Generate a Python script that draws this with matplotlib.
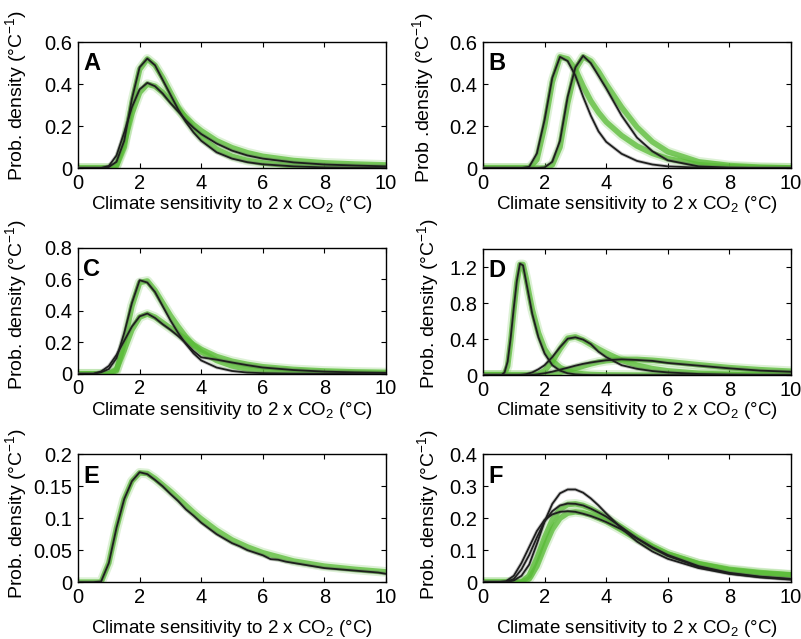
import matplotlib
matplotlib.use("Agg")
import matplotlib.pyplot as plt
from matplotlib.ticker import FixedLocator, FixedFormatter

plt.rcParams['font.family'] = ['Liberation Sans', 'DejaVu Sans']
plt.rcParams['mathtext.fontset'] = 'custom'
plt.rcParams['mathtext.rm'] = 'Liberation Sans'
plt.rcParams['mathtext.it'] = 'Liberation Sans:italic'
plt.rcParams['mathtext.bf'] = 'Liberation Sans:bold'

# ---------------- data ----------------
X = [0, 0.5, 0.75, 1.0, 1.25, 1.5, 1.75, 2.0, 2.25, 2.5, 2.75, 3.0, 3.25, 3.5,
     3.75, 4.0, 4.5, 5.0, 5.5, 6.0, 7.0, 8.0, 9.0, 10.0]

# Panel A
a_black_tall = [0, 0, 0, 0.005, 0.03, 0.13, 0.33, 0.48, 0.522, 0.49, 0.42, 0.35, 0.28, 0.22,
                0.17, 0.13, 0.075, 0.045, 0.028, 0.018, 0.008, 0.003, 0.001, 0.0]
a_black_wide = [0, 0, 0, 0.01, 0.06, 0.17, 0.29, 0.375, 0.406, 0.39, 0.355, 0.31, 0.27, 0.228,
                0.192, 0.162, 0.117, 0.083, 0.06, 0.045, 0.027, 0.017, 0.012, 0.008]
a_green_tall = [0, 0, 0, 0, 0.01, 0.10, 0.31, 0.47, 0.52, 0.49, 0.43, 0.36, 0.29, 0.235,
                0.185, 0.145, 0.09, 0.056, 0.036, 0.024, 0.011, 0.005, 0.002, 0.001]
a_green_wide = [0, 0, 0, 0, 0.015, 0.12, 0.26, 0.36, 0.40, 0.39, 0.36, 0.32, 0.28, 0.242,
                0.207, 0.178, 0.13, 0.097, 0.073, 0.056, 0.036, 0.025, 0.019, 0.015]

# Panel B
b_black_1 = [0, 0, 0, 0, 0, 0.006, 0.07, 0.23, 0.43, 0.53, 0.51, 0.44, 0.34, 0.25,
             0.175, 0.125, 0.068, 0.034, 0.017, 0.008, 0.002, 0, 0, 0]
b_black_2 = [0, 0, 0, 0, 0, 0, 0, 0.003, 0.03, 0.13, 0.34, 0.48, 0.535, 0.50,
             0.44, 0.38, 0.25, 0.145, 0.08, 0.037, 0.008, 0.002, 0, 0]
b_green_1 = [0, 0, 0, 0, 0, 0, 0.04, 0.20, 0.41, 0.53, 0.52, 0.47, 0.39, 0.32,
             0.265, 0.22, 0.155, 0.105, 0.07, 0.045, 0.016, 0.006, 0.002, 0.001]
b_green_2 = [0, 0, 0, 0, 0, 0, 0, 0, 0.015, 0.10, 0.31, 0.47, 0.53, 0.51,
             0.46, 0.40, 0.29, 0.195, 0.125, 0.078, 0.03, 0.012, 0.004, 0.001]

# Panel C
c_black_tall = [0, 0, 0.01, 0.03, 0.10, 0.26, 0.45, 0.595, 0.58, 0.52, 0.43, 0.34, 0.26, 0.19,
                0.13, 0.085, 0.04, 0.018, 0.008, 0.004, 0.001, 0, 0, 0]
c_black_wide = [0, 0, 0.015, 0.05, 0.12, 0.21, 0.30, 0.365, 0.383, 0.355, 0.315, 0.28, 0.24, 0.195,
                0.145, 0.105, 0.09, 0.072, 0.055, 0.04, 0.024, 0.014, 0.009, 0.006]
c_green_tall = [0, 0, 0, 0, 0.02, 0.20, 0.43, 0.58, 0.59, 0.53, 0.45, 0.37, 0.30, 0.235,
                0.18, 0.14, 0.085, 0.05, 0.03, 0.018, 0.007, 0.003, 0.001, 0]
c_green_wide = [0, 0, 0, 0, 0.03, 0.15, 0.28, 0.36, 0.38, 0.36, 0.325, 0.29, 0.255, 0.22,
                0.185, 0.155, 0.11, 0.08, 0.06, 0.045, 0.028, 0.018, 0.012, 0.008]

# Panel D
XD = [0, 0.5, 0.6, 0.7, 0.8, 0.9, 1.0, 1.1, 1.2, 1.3, 1.4, 1.5, 1.6, 1.8, 2.0, 2.25,
      2.5, 2.75, 3.0, 3.25, 3.5, 3.75, 4.0, 4.5, 5.0, 5.5, 6.0, 7.0, 8.0, 9.0, 10.0]
d_black_1 = [0, 0, 0, 0.03, 0.15, 0.42, 0.75, 1.05, 1.24, 1.22, 1.04, 0.86, 0.68, 0.42, 0.24, 0.11,
             0.05, 0.02, 0.008, 0.003, 0.001, 0, 0, 0, 0, 0, 0, 0, 0, 0, 0]
d_black_2 = [0, 0, 0, 0, 0, 0, 0, 0, 0.002, 0.005, 0.01, 0.02, 0.03, 0.065, 0.11, 0.20,
             0.31, 0.405, 0.42, 0.395, 0.345, 0.26, 0.20, 0.11, 0.07, 0.045, 0.03, 0.012, 0.005, 0.002, 0.001]
d_black_3 = [0, 0, 0, 0, 0, 0, 0, 0, 0, 0, 0, 0, 0.002, 0.01, 0.02, 0.038,
             0.06, 0.082, 0.105, 0.125, 0.14, 0.153, 0.165, 0.175, 0.168, 0.158, 0.135, 0.105, 0.075, 0.05, 0.037]
d_green_1 = [0, 0, 0, 0.01, 0.10, 0.38, 0.72, 1.03, 1.23, 1.23, 1.08, 0.90, 0.73, 0.47, 0.29, 0.16,
             0.085, 0.045, 0.025, 0.013, 0.007, 0.004, 0.002, 0.001, 0, 0, 0, 0, 0, 0, 0]
d_green_2 = [0, 0, 0, 0, 0, 0, 0, 0, 0, 0, 0, 0, 0, 0.01, 0.05, 0.15,
             0.29, 0.41, 0.425, 0.39, 0.34, 0.29, 0.245, 0.165, 0.11, 0.072, 0.047, 0.02, 0.008, 0.003, 0.001]
d_green_3 = [0, 0, 0, 0, 0, 0, 0, 0, 0, 0, 0, 0, 0, 0, 0.005, 0.015,
             0.03, 0.05, 0.075, 0.10, 0.125, 0.145, 0.16, 0.175, 0.175, 0.165, 0.15, 0.115, 0.083, 0.06, 0.043]

# Panel E
XE = [0, 0.25, 0.5, 0.75, 1.0, 1.25, 1.5, 1.75, 2.0, 2.25, 2.5, 2.75, 3.0, 3.25, 3.5, 3.75,
      4.0, 4.25, 4.5, 4.75, 5.0, 5.25, 5.5, 5.75, 6.0, 6.25, 6.5, 6.75, 7.0, 7.25, 7.5, 7.75,
      8.0, 8.25, 8.5, 8.75, 9.0, 9.25, 9.5, 9.75, 10.0]
e_black = [0, 0, 0, 0.001, 0.03, 0.085, 0.13, 0.158, 0.172, 0.169, 0.16, 0.15, 0.138, 0.127, 0.114, 0.104,
           0.093, 0.084, 0.075, 0.068, 0.061, 0.056, 0.05, 0.046, 0.042, 0.036, 0.035, 0.032, 0.030, 0.028, 0.026, 0.024,
           0.022, 0.021, 0.020, 0.019, 0.018, 0.017, 0.016, 0.015, 0.013]
e_green = [0, 0, 0, 0.03, 0.085, 0.13, 0.158, 0.171, 0.17, 0.162, 0.152, 0.142, 0.131, 0.12,
           0.109, 0.099, 0.081, 0.066, 0.055, 0.046, 0.033, 0.025, 0.02, 0.016]

# Panel F
f_black_1 = [0, 0, 0, 0.005, 0.02, 0.055, 0.12, 0.19, 0.245, 0.278, 0.29, 0.29, 0.28, 0.262,
             0.24, 0.215, 0.168, 0.127, 0.096, 0.073, 0.044, 0.026, 0.015, 0.008]
f_black_2 = [0, 0, 0, 0.01, 0.04, 0.085, 0.14, 0.19, 0.222, 0.24, 0.246, 0.245, 0.24, 0.23,
             0.218, 0.205, 0.172, 0.137, 0.107, 0.082, 0.048, 0.027, 0.016, 0.009]
f_black_3 = [0, 0, 0.003, 0.02, 0.06, 0.11, 0.16, 0.195, 0.212, 0.22, 0.222, 0.22, 0.214, 0.207,
             0.198, 0.188, 0.165, 0.137, 0.109, 0.085, 0.05, 0.029, 0.017, 0.01]
f_green_1 = [0, 0, 0, 0, 0, 0.02, 0.075, 0.14, 0.195, 0.228, 0.243, 0.245, 0.24, 0.23,
             0.217, 0.203, 0.172, 0.14, 0.112, 0.088, 0.057, 0.038, 0.028, 0.022]
f_green_2 = [0, 0, 0, 0, 0, 0.01, 0.05, 0.11, 0.165, 0.20, 0.216, 0.22, 0.217, 0.21,
             0.20, 0.19, 0.163, 0.135, 0.11, 0.088, 0.058, 0.04, 0.03, 0.023]

x_ticks = [0, 2, 4, 6, 8, 10]
x_ticklabels = ['0', '2', '4', '6', '8', '10']

panels = [
    dict(letter='A', rect=[0.0974, 0.737, 0.3845, 0.197],
         yticks=[0, 0.2, 0.4, 0.6], ylabels=['0', '0.2', '0.4', '0.6'], ylim=0.6,
         black=[(X, a_black_tall), (X, a_black_wide)],
         green=[(X, a_green_tall), (X, a_green_wide)],
         ylabel='Prob. density (°C$^{-1}$)', ly=0.58, lx=-0.158, pad=1.0),
    dict(letter='B', rect=[0.603, 0.737, 0.3845, 0.197],
         yticks=[0, 0.2, 0.4, 0.6], ylabels=['0', '0.2', '0.4', '0.6'], ylim=0.6,
         black=[(X, b_black_1), (X, b_black_2)],
         green=[(X, b_green_1), (X, b_green_2)],
         ylabel='Prob .density (°C$^{-1}$)', ly=0.56, lx=-0.152, pad=1.0),
    dict(letter='C', rect=[0.0974, 0.415, 0.3845, 0.197],
         yticks=[0, 0.2, 0.4, 0.6, 0.8], ylabels=['0', '0.2', '0.4', '0.6', '0.8'], ylim=0.8,
         black=[(X, c_black_tall), (X, c_black_wide)],
         green=[(X, c_green_tall), (X, c_green_wide)],
         ylabel='Prob. density (°C$^{-1}$)', ly=0.548, lx=-0.158, pad=1.0),
    dict(letter='D', rect=[0.603, 0.413, 0.3845, 0.197],
         yticks=[0, 0.4, 0.8, 1.2], ylabels=['0', '0.4', '0.8', '1.2'], ylim=1.4,
         black=[(XD, d_black_1), (XD, d_black_2), (XD, d_black_3)],
         green=[(XD, d_green_1), (XD, d_green_2), (XD, d_green_3)],
         ylabel='Prob. density (°C$^{-1}$)', ly=0.567, lx=-0.135, pad=0.0),
    dict(letter='E', rect=[0.0974, 0.089, 0.3845, 0.2],
         yticks=[0, 0.05, 0.1, 0.15, 0.2], ylabels=['0', '0.05', '0.1', '0.15', '0.2'], ylim=0.2,
         black=[(XE, e_black)],
         green=[(X, e_green)],
         ylabel='Prob. density (°C$^{-1}$)', ly=0.54, lx=-0.158, pad=8.0),
    dict(letter='F', rect=[0.603, 0.089, 0.3845, 0.2],
         yticks=[0, 0.1, 0.2, 0.3, 0.4], ylabels=['0', '0.1', '0.2', '0.3', '0.4'], ylim=0.4,
         black=[(X, f_black_1), (X, f_black_2), (X, f_black_3)],
         green=[(X, f_green_1), (X, f_green_2)],
         ylabel='Prob. density (°C$^{-1}$)', ly=0.53, lx=-0.135, pad=8.0),
]

GREEN = '#58bb35'
BLACK = '#1e1e1e'

fig = plt.figure(figsize=(8.01, 6.39), dpi=100)
for p in panels:
    ax = fig.add_axes(p['rect'])
    for xs, ys in p['green']:
        ax.plot(xs, ys, color=GREEN, lw=7, alpha=0.2, solid_capstyle='butt', zorder=2)
        ax.plot(xs, ys, color=GREEN, lw=4, alpha=0.75, solid_capstyle='butt', zorder=2)
    for xs, ys in p['black']:
        ax.plot(xs, ys, color='#555555', lw=2.6, alpha=0.3, zorder=3)
        ax.plot(xs, ys, color=BLACK, lw=1.3, zorder=4)
    ax.set_xlim(0, 10)
    ax.set_ylim(0, p['ylim'])
    ax.xaxis.set_major_locator(FixedLocator(x_ticks))
    ax.xaxis.set_major_formatter(FixedFormatter(x_ticklabels))
    ax.yaxis.set_major_locator(FixedLocator(p['yticks']))
    ax.yaxis.set_major_formatter(FixedFormatter(p['ylabels']))
    ax.tick_params(direction='in', top=True, right=True, length=3.5, width=0.8,
                   labelsize=14.5, pad=4, colors='black')
    for s in ax.spines.values():
        s.set_linewidth(1.0)
    ax.set_xlabel('Climate sensitivity to 2 x CO$_2$ (°C)', fontsize=13.5, labelpad=p['pad'])
    ax.set_ylabel(p['ylabel'], fontsize=14)
    ax.yaxis.set_label_coords(p['lx'], p['ly'])
    ax.text(0.016, 0.92, p['letter'], transform=ax.transAxes, ha='left', va='top',
            fontsize=17, fontweight='bold', zorder=6)

fig.savefig('out.png', dpi=100)
